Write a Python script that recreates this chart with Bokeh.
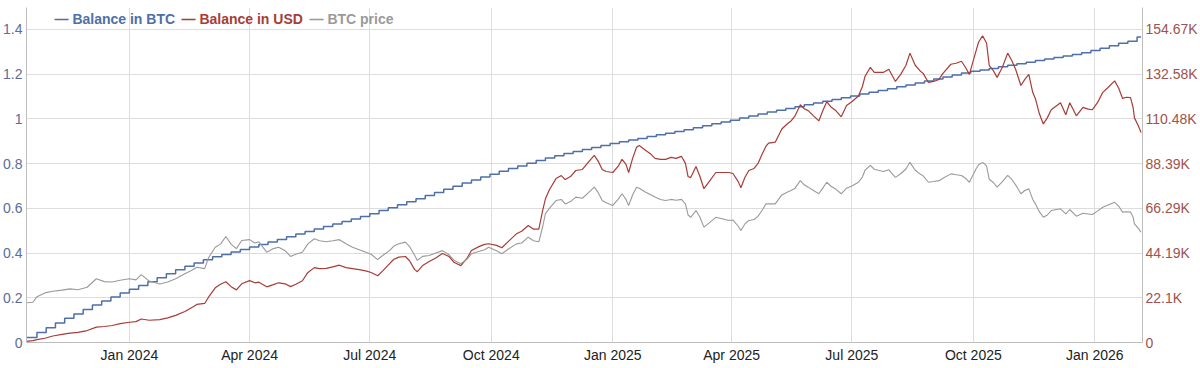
import pandas as pd
from bokeh.plotting import figure
from bokeh.models import Range1d, LinearAxis, FixedTicker, DatetimeTickFormatter, Label
from bokeh.embed import file_html
from bokeh.resources import INLINE

# ---------------- data ----------------
series_names = ["Balance in BTC", "Balance in USD", "BTC price"]

# weekly DCA purchases (first holding, then every Monday)
btc_first_date = "2023-10-15"
btc_weekly_start = "2023-10-23"
btc_last_date = "2026-02-05"
btc_balance = [
    0.022, 0.045, 0.066, 0.087, 0.108, 0.128, 0.148, 0.168, 0.186, 0.204, 0.221, 0.238,
    0.255, 0.272, 0.290, 0.308, 0.325, 0.341, 0.356, 0.370, 0.383, 0.394, 0.405, 0.416, 0.427,
    0.438, 0.450, 0.461, 0.473, 0.485, 0.497, 0.508, 0.519, 0.530, 0.541, 0.552, 0.564, 0.576,
    0.590, 0.603, 0.616, 0.629, 0.643, 0.657, 0.671, 0.685, 0.699, 0.713, 0.727, 0.740, 0.753,
    0.766, 0.778, 0.790, 0.802, 0.814, 0.825, 0.835, 0.845, 0.854, 0.863, 0.872, 0.881, 0.890,
    0.898, 0.906, 0.913, 0.921, 0.929, 0.936, 0.944, 0.952, 0.960, 0.969, 0.978, 0.986, 0.994,
    1.004, 1.013, 1.022, 1.031, 1.039, 1.047, 1.055, 1.063, 1.071, 1.079, 1.087, 1.095, 1.103,
    1.111, 1.119, 1.127, 1.135, 1.144, 1.152, 1.161, 1.170, 1.179, 1.188, 1.197, 1.205, 1.213,
    1.219, 1.226, 1.233, 1.240, 1.247, 1.254, 1.261, 1.268, 1.275, 1.281, 1.288,
    1.296, 1.306, 1.316, 1.327, 1.338, 1.348, 1.366,
]

price_dates = [
    "2023-10-15", "2023-10-20", "2023-10-23", "2023-10-29", "2023-11-04", "2023-11-11", "2023-11-17",
    "2023-11-23", "2023-11-30", "2023-12-07", "2023-12-13", "2023-12-19", "2023-12-25", "2024-01-01",
    "2024-01-06", "2024-01-10", "2024-01-16", "2024-01-24", "2024-01-30", "2024-02-05", "2024-02-12",
    "2024-02-18", "2024-02-21", "2024-02-27", "2024-03-01", "2024-03-06", "2024-03-10", "2024-03-14",
    "2024-03-18", "2024-03-22", "2024-03-26", "2024-04-01", "2024-04-05", "2024-04-08", "2024-04-14",
    "2024-04-19", "2024-04-23", "2024-04-28", "2024-05-02", "2024-05-06", "2024-05-11", "2024-05-15",
    "2024-05-20", "2024-05-24", "2024-05-29", "2024-06-03", "2024-06-08", "2024-06-13", "2024-06-18",
    "2024-06-23", "2024-06-28", "2024-07-02", "2024-07-07", "2024-07-11", "2024-07-16", "2024-07-19",
    "2024-07-23", "2024-07-28", "2024-07-31", "2024-08-04", "2024-08-06", "2024-08-10", "2024-08-15",
    "2024-08-20", "2024-08-25", "2024-08-30", "2024-09-03", "2024-09-08", "2024-09-13", "2024-09-16",
    "2024-09-22", "2024-09-26", "2024-09-29", "2024-10-05", "2024-10-09", "2024-10-14", "2024-10-20",
    "2024-10-24", "2024-10-29", "2024-11-02", "2024-11-06", "2024-11-09", "2024-11-11", "2024-11-14",
    "2024-11-19", "2024-11-23", "2024-11-26", "2024-11-30", "2024-12-04", "2024-12-09", "2024-12-14",
    "2024-12-18", "2024-12-21", "2024-12-24", "2024-12-27", "2025-01-01", "2025-01-05", "2025-01-08",
    "2025-01-11", "2025-01-13", "2025-01-16", "2025-01-19", "2025-01-21", "2025-01-26", "2025-01-30",
    "2025-02-02", "2025-02-06", "2025-02-10", "2025-02-14", "2025-02-18", "2025-02-22", "2025-02-25",
    "2025-02-27", "2025-03-01", "2025-03-05", "2025-03-08", "2025-03-11", "2025-03-15", "2025-03-20",
    "2025-03-24", "2025-03-30", "2025-04-02", "2025-04-06", "2025-04-08", "2025-04-11", "2025-04-14",
    "2025-04-18", "2025-04-21", "2025-04-24", "2025-04-27", "2025-04-29", "2025-05-04", "2025-05-09",
    "2025-05-13", "2025-05-16", "2025-05-19", "2025-05-23", "2025-05-26", "2025-05-29", "2025-06-02",
    "2025-06-06", "2025-06-09", "2025-06-12", "2025-06-15", "2025-06-19", "2025-06-23", "2025-06-27",
    "2025-07-01", "2025-07-06", "2025-07-09", "2025-07-11", "2025-07-15", "2025-07-18", "2025-07-21",
    "2025-07-25", "2025-07-29", "2025-08-03", "2025-08-07", "2025-08-11", "2025-08-14", "2025-08-18",
    "2025-08-22", "2025-08-24", "2025-08-28", "2025-09-01", "2025-09-05", "2025-09-08", "2025-09-14",
    "2025-09-18", "2025-09-22", "2025-09-25", "2025-09-28", "2025-10-03", "2025-10-05", "2025-10-08",
    "2025-10-11", "2025-10-13", "2025-10-16", "2025-10-19", "2025-10-23", "2025-10-27", "2025-10-30",
    "2025-11-02", "2025-11-06", "2025-11-09", "2025-11-12", "2025-11-15", "2025-11-17", "2025-11-20",
    "2025-11-23", "2025-11-26", "2025-11-29", "2025-12-03", "2025-12-06", "2025-12-10", "2025-12-13",
    "2025-12-18", "2025-12-23", "2025-12-27", "2025-12-30", "2026-01-03", "2026-01-07", "2026-01-11",
    "2026-01-16", "2026-01-19", "2026-01-22", "2026-01-25", "2026-01-28", "2026-01-30", "2026-01-31",
    "2026-02-03", "2026-02-05",
]

btc_price_usd = [
    27600, 27900, 31800, 34400, 35500, 36300, 37200,
    36600, 38300, 44200, 42200, 41900, 43100, 44200,
    43400, 47100, 42600, 40600, 41900, 44200, 47600,
    50400, 52200, 51200, 58900, 66000, 68200, 73500,
    68200, 65100, 70700, 71300, 69000, 69800, 62600,
    65100, 66000, 63600, 59700, 61200, 62600, 68200,
    71900, 70500, 69800, 70500, 71300, 68500, 66000,
    64300, 62600, 61200, 57500, 60500, 63700, 66700,
    68400, 69600, 66700, 60500, 56900, 59700, 60300,
    62000, 63700, 60800, 56900, 54600, 58100, 61500,
    63200, 64300, 66000, 63600, 61500, 64800, 68400,
    69000, 73000, 70500, 69800, 80600, 89300, 93000,
    98400, 99200, 96100, 97700, 100800, 100000, 104200,
    107700, 103900, 98400, 96900, 95000, 99200, 103100,
    99200, 95000, 102300, 107700, 107000, 104200, 102300,
    100800, 99200, 98400, 99200, 98600, 99200, 96100,
    88400, 86800, 91500, 86800, 80000, 82900, 86800,
    86000, 84600, 84900, 80600, 77700, 82200, 84600,
    85300, 87600, 91500, 96100, 96100, 96100, 102300,
    104200, 105400, 107000, 112200, 109300, 107700, 105400,
    103100, 107000, 111100, 108500, 106200, 103100, 107000,
    108500, 111100, 114700, 119400, 122800, 120100, 119400,
    118600, 119700, 114500, 117000, 120300, 124900, 119400,
    116600, 115500, 111100, 111600, 112200, 113900, 116900,
    116300, 115800, 113900, 111100, 120300, 123200, 124900,
    122500, 113200, 111100, 107700, 111600, 115800, 113200,
    109300, 103100, 105400, 106500, 99200, 96100, 90700,
    86800, 88400, 91500, 92200, 92700, 89100, 92200,
    87600, 89600, 89100, 88700, 91100, 93800, 95300,
    97200, 94600, 90400, 90700, 90400, 86800, 82300,
    79100, 76400,
]

balance_usd = [
    600, 900, 1400, 2100, 3200, 4000, 4600,
    5000, 5900, 7600, 7900, 8400, 9300, 10000,
    10300, 11600, 11000, 11300, 12200, 13400, 15300,
    17500, 18800, 19300, 22500, 27000, 28800, 30000,
    27600, 26000, 29000, 30600, 29500, 29800, 27500,
    28600, 29500, 29000, 27600, 28800, 30500, 34500,
    37000, 36500, 36600, 37400, 38200, 37000, 36500,
    36000, 35400, 34600, 33000, 35500, 39000, 41000,
    42200, 42500, 40500, 36000, 35000, 38000, 40000,
    41800, 44000, 42500, 39500, 38000, 42000, 45500,
    47500, 48500, 48800, 48000, 46800, 50000, 53700,
    55000, 57800, 56000, 56000, 65500, 71000, 75500,
    81000, 82500, 80500, 82000, 85000, 85500, 89500,
    92500, 89500, 85500, 84500, 84000, 87000, 90500,
    88000, 84000, 91000, 96500, 97300, 94900, 93000,
    91000, 90500, 90500, 91500, 91000, 92000, 88500,
    82000, 81500, 87000, 82000, 76000, 79500, 84000,
    84000, 84000, 83500, 79500, 76500, 81500, 85000,
    86000, 88500, 93000, 97000, 98500, 99000, 105500,
    108000, 109500, 112000, 117500, 115500, 114600, 112000,
    109500, 114500, 119000, 116500, 114500, 111500, 117100,
    119000, 121800, 126500, 131500, 136000, 133500, 133500,
    133500, 135000, 129000, 132500, 137000, 143000, 137000,
    134000, 133000, 128500, 129000, 130000, 133000, 137500,
    138000, 139000, 136000, 132500, 144000, 148500, 151500,
    148000, 137000, 134500, 131000, 136000, 143000, 139500,
    135000, 127000, 130000, 132500, 123500, 120500, 113000,
    108000, 111000, 115000, 117000, 118500, 112500, 118500,
    112000, 116200, 115300, 115000, 118500, 123600, 126000,
    129300, 125800, 120600, 121200, 121000, 116000, 111000,
    107000, 103700,
]

# axes
x_start, x_end = "2023-10-15 02:00", "2026-02-06 02:00"
x_tick_dates = ["2024-01-01", "2024-04-01", "2024-07-01", "2024-10-01",
                "2025-01-01", "2025-04-01", "2025-07-01", "2025-10-01", "2026-01-01"]
btc_ticks = [0, 0.2, 0.4, 0.6, 0.8, 1, 1.2, 1.4]
btc_tick_labels = ["0", "0.2", "0.4", "0.6", "0.8", "1", "1.2", "1.4"]
btc_axis_max = 1.4984
usd_tick_labels = ["0", "22.1K", "44.19K", "66.29K", "88.39K", "110.48K", "132.58K", "154.67K"]
usd_tick_top = 154670
price_axis_max = 232250

# ---------------- styling ----------------
BLUE = "#4e6fa8"
RED = "#a83c36"
GRAY = "#9a9a9a"
FONT = "Liberation Sans"

btc_dates = [pd.Timestamp(btc_first_date)] + list(
    pd.date_range(btc_weekly_start, periods=len(btc_balance) - 1, freq="7D"))
btc_dates_ext = btc_dates + [pd.Timestamp(btc_last_date)]
btc_balance_ext = btc_balance + [btc_balance[-1]]
pdates = pd.to_datetime(price_dates)

p = figure(width=1200, height=368, x_axis_type="datetime",
           x_range=Range1d(pd.Timestamp(x_start), pd.Timestamp(x_end)),
           y_range=Range1d(0, btc_axis_max),
           output_backend="svg", toolbar_location=None,
           min_border_left=0, min_border_right=0, min_border_top=7, min_border_bottom=26)
p.extra_y_ranges = {"usd": Range1d(0, usd_tick_top * btc_axis_max / btc_ticks[-1]),
                    "price": Range1d(0, price_axis_max)}
p.outline_line_color = None
p.background_fill_color = "white"
p.border_fill_color = "white"

p.step(btc_dates_ext, btc_balance_ext, mode="after", line_color=BLUE, line_width=1.5)
p.line(pdates, balance_usd, y_range_name="usd", line_color=RED, line_width=1.2)
p.line(pdates, btc_price_usd, y_range_name="price", line_color=GRAY, line_width=1.1)

# x axis
x_ticks = [pd.Timestamp(d).value // 10**6 for d in x_tick_dates]
xt = FixedTicker(ticks=x_ticks)
p.xaxis.ticker = xt
p.xaxis.formatter = DatetimeTickFormatter(days="%b %Y", months="%b %Y", years="%b %Y")
p.xgrid.ticker = xt

# left axis
p.yaxis.ticker = FixedTicker(ticks=btc_ticks)
p.yaxis.major_label_overrides = dict(zip(btc_ticks, btc_tick_labels))
p.yaxis.major_label_text_color = "#5a6d9a"

# right axis
usd_ticks = [round(i * usd_tick_top / (len(usd_tick_labels) - 1)) for i in range(len(usd_tick_labels))]
right = LinearAxis(y_range_name="usd", ticker=FixedTicker(ticks=usd_ticks),
                   major_label_overrides=dict(zip(usd_ticks, usd_tick_labels)))
right.major_label_text_color = "#a0524c"
p.add_layout(right, "right")

for ax in p.xaxis + p.yaxis + [right]:
    ax.axis_line_color = "#bdbdbd"
    ax.major_tick_line_color = None
    ax.minor_tick_line_color = None
    ax.major_tick_out = 0
    ax.major_tick_in = 0
    ax.major_label_standoff = 4
    ax.major_label_text_font = FONT
    ax.major_label_text_font_size = "14px"
right.major_label_standoff = 3
p.xaxis.major_label_text_color = "#222222"

p.xgrid.grid_line_color = "#dddddd"
p.ygrid.grid_line_color = "#dddddd"

# legend (Dygraphs-style inline text)
legend_x = [28, 155, 283]
for name, col, lx in zip(series_names, [BLUE, RED, GRAY], legend_x):
    p.add_layout(Label(x=lx, y=324, x_units="screen", y_units="screen",
                       text="\u2014 " + name, text_color=col, text_font=FONT,
                       text_font_style="bold", text_font_size="14px",
                       text_baseline="middle"))

open("out.html", "w").write(file_html(p, INLINE))
